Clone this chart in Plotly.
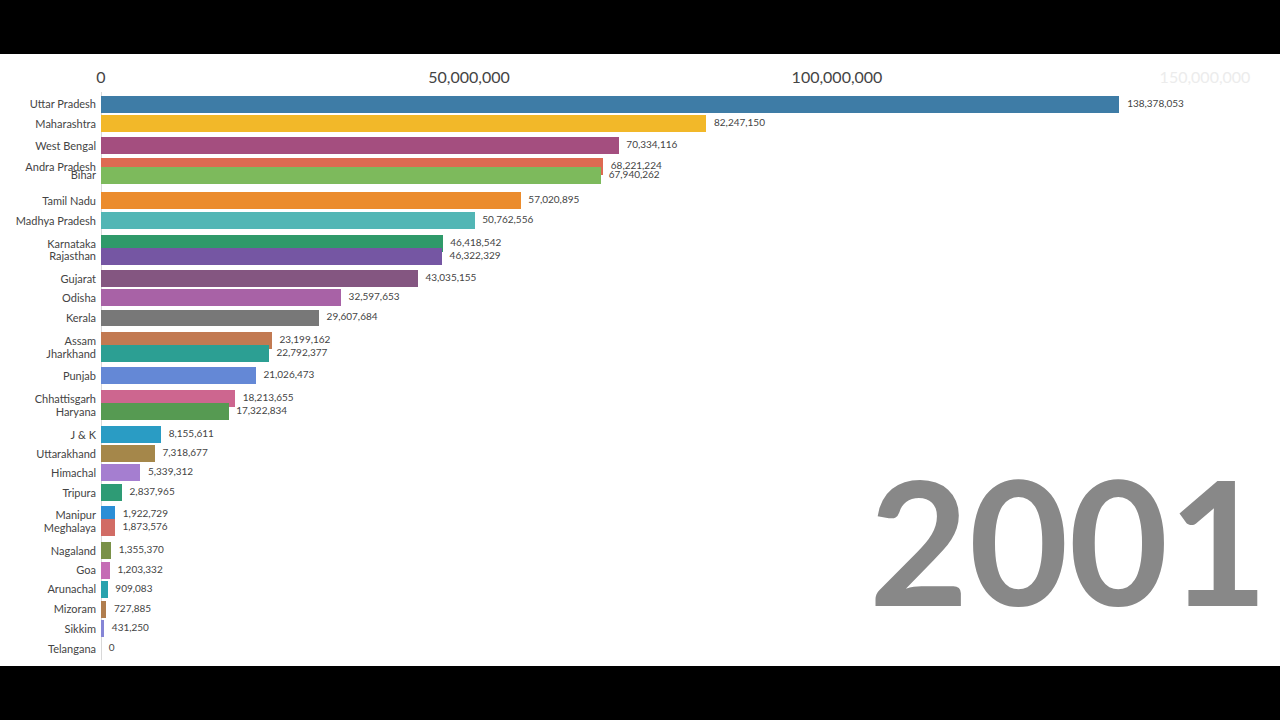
import plotly.graph_objects as go

# ---- data (frame of an animated bar-chart race, year 2001) ----
year_label = "2001"
states = ["Uttar Pradesh", "Maharashtra", "West Bengal", "Andra Pradesh", "Bihar",
          "Tamil Nadu", "Madhya Pradesh", "Karnataka", "Rajasthan", "Gujarat",
          "Odisha", "Kerala", "Assam", "Jharkhand", "Punjab", "Chhattisgarh",
          "Haryana", "J & K", "Uttarakhand", "Himachal", "Tripura", "Manipur",
          "Meghalaya", "Nagaland", "Goa", "Arunachal", "Mizoram", "Sikkim", "Telangana"]
population = [138378053, 82247150, 70334116, 68221224, 67940262,
              57020895, 50762556, 46418542, 46322329, 43035155,
              32597653, 29607684, 23199162, 22792377, 21026473, 18213655,
              17322834, 8155611, 7318677, 5339312, 2837965, 1922729,
              1873576, 1355370, 1203332, 909083, 727885, 431250, 0]
# interpolated rank of each bar in this animation frame
rank_pos = [1.00, 2.00, 3.13, 4.20, 4.65,
            5.95, 6.99, 8.17, 8.81, 9.97,
            10.95, 11.98, 13.16, 13.83, 14.96, 16.14,
            16.81, 17.99, 18.97, 19.95, 20.97, 22.10,
            22.77, 23.95, 24.97, 25.95, 26.98, 27.96, 29.00]
tick_vals = [0, 50000000, 100000000, 150000000]
tick_text = ["0", "50,000,000", "100,000,000",
             '<span style="color:#ececec">150,000,000</span>']

colors = ["#3e7ca6", "#f2b829", "#a44e7f", "#dd6a52", "#7dba5c",
          "#eb8c2d", "#52b6b5", "#2f9a6a", "#7556a3", "#845681",
          "#a862a6", "#787878", "#c27a52", "#2c9f93", "#6488d6", "#cd668f",
          "#569a52", "#2a9cc4", "#a5874a", "#a57ed0", "#2e9b75", "#2b8ed6",
          "#d16c65", "#7a9148", "#c56cb5", "#28a2ad", "#b07d4e", "#8585d6", "#999999"]

W, H = 1280, 720
PL, PR, PT, PB = 101, 10, 92, 60
px_per_unit = 368 / 50000000
x_max = (W - PL - PR) / px_per_unit
plot_w = W - PL - PR
plot_h = H - PT - PB

fig = go.Figure()
fig.add_trace(go.Bar(
    x=population, y=rank_pos, orientation="h", width=0.87,
    marker=dict(color=colors, line=dict(width=0)),
    hoverinfo="skip", showlegend=False,
))
fig.add_trace(go.Scatter(
    x=population, y=rank_pos, mode="text",
    text=["   " + f"{v:,}" for v in population],
    textposition="middle right",
    textfont=dict(family="Lato", size=10, color="#444444"),
    hoverinfo="skip", showlegend=False, cliponaxis=False,
))

# light vertical grid lines at the inner ticks
for v in tick_vals[1:3]:
    fig.add_shape(type="line", xref="x", yref="paper", x0=v, x1=v, y0=0, y1=1,
                  line=dict(color="#ebebeb", width=1), layer="below")

# white stage between black letterbox bands
fig.add_shape(type="rect", xref="paper", yref="paper",
              x0=-PL / plot_w, x1=1 + PR / plot_w,
              y0=(H - PB - 666) / plot_h, y1=1 + (PT - 54) / plot_h,
              fillcolor="white", line=dict(width=0), layer="below")

fig.add_annotation(text="<b>" + year_label + "</b>", xref="paper", yref="paper",
                   x=1.0, y=0.026, xanchor="right", yanchor="bottom",
                   showarrow=False,
                   font=dict(family="Lato", size=172, color="#888888"))

fig.update_layout(
    width=W, height=H,
    margin=dict(l=PL, r=PR, t=PT, b=PB, autoexpand=False),
    paper_bgcolor="black", plot_bgcolor="white",
    font=dict(family="Lato", color="#444444"),
    xaxis=dict(range=[0, x_max], side="top", tickvals=tick_vals, ticktext=tick_text,
               showgrid=False, zeroline=True, zerolinecolor="#d8d8d8", zerolinewidth=1,
               showline=False, ticks="", ticklabelstandoff=5,
               tickfont=dict(family="Lato", size=16, color="#444444"),
               fixedrange=True),
    yaxis=dict(range=[29.57, 0.36], tickvals=rank_pos, ticktext=states, showgrid=False,
               zeroline=False, showline=False, ticks="", ticklabelstandoff=4,
               tickfont=dict(family="Lato", size=11, color="#444444"), fixedrange=True),
    bargap=0,
)

fig.write_html("out.html")
